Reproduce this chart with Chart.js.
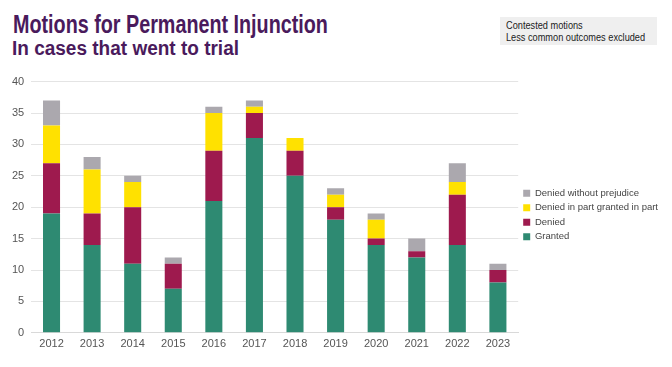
<!DOCTYPE html>
<html>
<head>
<meta charset="utf-8">
<script src="https://cdn.jsdelivr.net/npm/chart.js@4"></script>
<style>
  html, body { margin: 0; padding: 0; background: #fff; }
  body { width: 672px; height: 367px; position: relative; overflow: hidden; font-family: "Liberation Sans", Arial, sans-serif; }
  .title { position: absolute; left: 13px; top: 10px; color: #4a1a5c; font-weight: bold; font-size: 25px; white-space: nowrap; transform: scaleX(0.79); transform-origin: left top; }
  .subtitle { position: absolute; left: 12px; top: 37px; color: #4a1a5c; font-weight: bold; font-size: 20px; white-space: nowrap; transform: scaleX(0.95); transform-origin: left top; }
  .note { position: absolute; left: 500px; top: 17px; width: 157px; height: 28px; background: #efefef; font-size: 10px; line-height: 11.5px; color: #222; padding: 3px 0 0 6px; box-sizing: border-box; white-space: nowrap; }
  .note span { display: inline-block; transform: scaleX(0.92); transform-origin: left top; }
  #wrap { position: absolute; left: 0; top: 68px; width: 672px; height: 288px; }
</style>
</head>
<body>
<div class="title">Motions for Permanent Injunction</div>
<div class="subtitle">In cases that went to trial</div>
<div class="note"><span>Contested motions</span><br><span>Less common outcomes excluded</span></div>
<div id="wrap"><canvas id="chart"></canvas></div>
<script>
// ---------- DATA ----------
const years = ['2012','2013','2014','2015','2016','2017','2018','2019','2020','2021','2022','2023'];
const granted       = [19, 14, 11, 7, 21, 31, 25, 18, 14, 12, 14, 8];
const denied        = [ 8,  5,  9, 4,  8,  4,  4,  2,  1,  1,  8, 2];
const deniedInPart  = [ 6,  7,  4, 0,  6,  1,  2,  2,  3,  0,  2, 0];
const deniedWithout = [ 4,  2,  1, 1,  1,  1,  0,  1,  1,  2,  3, 1];
const yTicks = [0, 5, 10, 15, 20, 25, 30, 35, 40];

const tickFont = { family: '"Liberation Sans", Arial, sans-serif', size: 11 };

new Chart(document.getElementById('chart'), {
  type: 'bar',
  data: {
    labels: years,
    datasets: [
      { label: 'Granted', data: granted, backgroundColor: '#2e8a72' },
      { label: 'Denied', data: denied, backgroundColor: '#9e1a4e' },
      { label: 'Denied in part granted in part', data: deniedInPart, backgroundColor: '#ffe100' },
      { label: 'Denied without prejudice', data: deniedWithout, backgroundColor: '#aba8ae' }
    ]
  },
  options: {
    responsive: true,
    maintainAspectRatio: false,
    animation: false,
    datasets: { bar: { barPercentage: 0.42, categoryPercentage: 1 } },
    layout: { padding: { left: 5, right: 4, top: 6, bottom: 0 } },
    plugins: {
      legend: {
        position: 'right',
        reverse: true,
        labels: { boxWidth: 7, boxHeight: 7, padding: 5, color: '#444', font: { family: tickFont.family, size: 9.5 } }
      },
      tooltip: { enabled: false }
    },
    scales: {
      x: {
        stacked: true,
        grid: { display: false, drawTicks: false },
        border: { display: true, color: '#d9d9d9' },
        ticks: { color: '#555', font: tickFont, padding: 5 }
      },
      y: {
        stacked: true,
        min: 0, max: 40,
        afterBuildTicks: axis => { axis.ticks = yTicks.map(v => ({ value: v })); },
        grid: { color: '#e4e4e4', drawTicks: false },
        border: { display: false },
        ticks: { color: '#555', font: tickFont, padding: 7 }
      }
    }
  }
});
</script>
</body>
</html>
